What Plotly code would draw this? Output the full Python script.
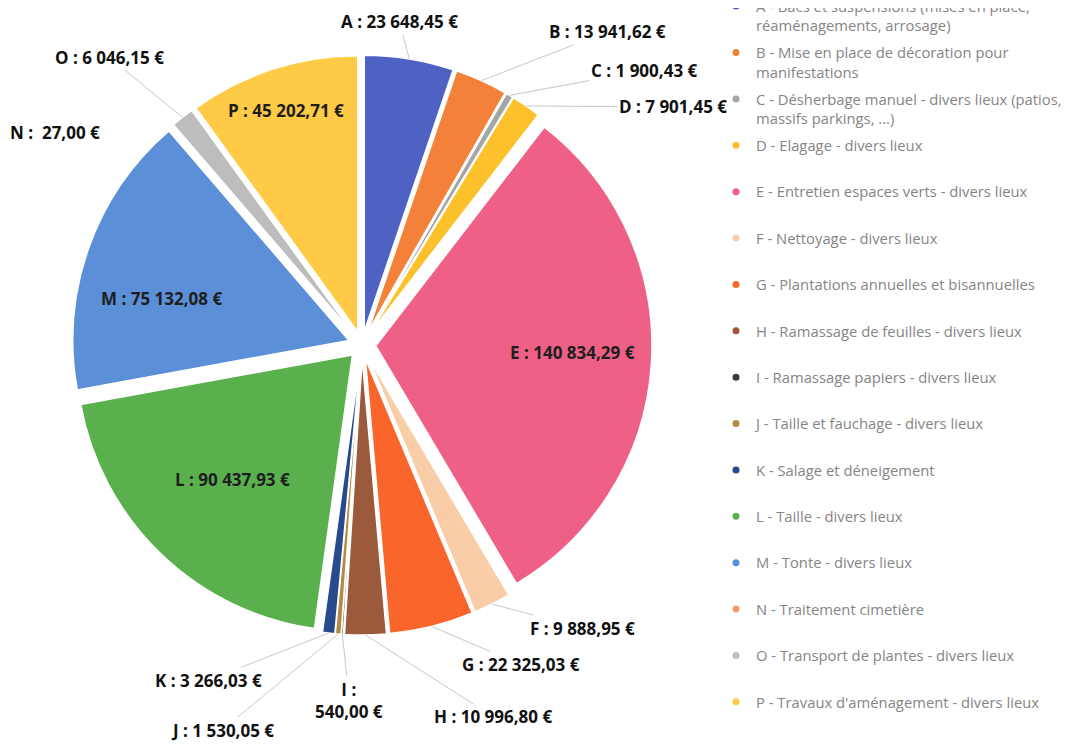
import math
import plotly.graph_objects as go

# Données
lettres = list("ABCDEFGHIJKLMNOP")
libelles = [
    "A - Bacs et suspensions (mises en place,<br>réaménagements, arrosage)",
    "B - Mise en place de décoration pour<br>manifestations",
    "C - Désherbage manuel - divers lieux (patios,<br>massifs parkings, ...)",
    "D - Elagage - divers lieux",
    "E - Entretien espaces verts - divers lieux",
    "F - Nettoyage - divers lieux",
    "G - Plantations annuelles et bisannuelles",
    "H - Ramassage de feuilles - divers lieux",
    "I - Ramassage papiers - divers lieux",
    "J - Taille et fauchage - divers lieux",
    "K - Salage et déneigement",
    "L - Taille - divers lieux",
    "M - Tonte - divers lieux",
    "N - Traitement cimetière",
    "O - Transport de plantes - divers lieux",
    "P - Travaux d'aménagement - divers lieux",
]
montants = [23648.45, 13941.62, 1900.43, 7901.45, 140834.29, 9888.95,
            22325.03, 10996.80, 540.00, 1530.05, 3266.03, 90437.93,
            75132.08, 27.00, 6046.15, 45202.71]
couleurs = ["#4E62C4", "#F4813A", "#A5A5A5", "#FDC22B", "#EE6086", "#F9CDA8",
            "#F9652A", "#9C5A3C", "#3A3A3A", "#B58A45", "#264A8C", "#5BB04E",
            "#5B90D8", "#F59A64", "#BDBDBD", "#FFCA45"]

# Mise en page (pixels de la page ; la page a une marge de 8 px)
MARGE = 8
W, H = 1083 - 2 * MARGE, 752 - 2 * MARGE
CX, CY, R = 362 - MARGE, 345 - MARGE, 290
PULL = 0.05

# étiquettes à l'intérieur : (fraction du rayon, décalage angulaire en degrés)
interieur = {"E": (0.714, -1.5), "L": (0.627, 0), "M": (0.694, -6.3), "P": (0.844, 0)}
# étiquettes à l'extérieur : décalage (dx, dy) depuis le bord de la part
exterieur = {
    "A": (-10, -37), "B": (126, -49), "C": (135, -25), "D": (147, 1),
    "F": (90, 24), "G": (89, 38), "H": (128, 82), "I": (7, 66),
    "J": (-116, 96), "K": (-120, 47), "N": (-118, 7), "O": (-73, -60),
}


def euros(v):
    s = f"{v:,.2f}".replace(",", " ").replace(".", ",")
    return s + " €"


fig = go.Figure()

fig.add_trace(go.Pie(
    labels=lettres, values=montants, sort=False, direction="clockwise",
    rotation=0, pull=[PULL] * len(montants), textinfo="none",
    marker=dict(colors=couleurs, line=dict(color="white", width=1.5)),
    domain=dict(x=[(CX - R) / W, (CX + R) / W],
                y=[(H - CY - R) / H, (H - CY + R) / H]),
    showlegend=False, hovertemplate="%{label} : %{value:,.2f} €<extra></extra>",
))

# légende : une trace fictive par poste, pour un espacement régulier
for lettre, lib, c in zip(lettres, libelles, couleurs):
    nom = lib if "<br>" in lib else lib + "<br>\u00a0"
    fig.add_trace(go.Scatter(
        x=[None], y=[None], mode="markers", name=nom, legendgroup=lettre,
        marker=dict(size=7, color=c), hoverinfo="skip",
    ))

# étiquettes
r = R / (1 + PULL)
total = sum(montants)
cumul = 0
annotations = []
for lettre, v in zip(lettres, montants):
    milieu = (cumul + v / 2) / total * 360
    cumul += v
    if lettre in interieur:
        frac, decal = interieur[lettre]
        theta = math.radians(milieu + decal)
        d = r * (PULL + frac)
        annotations.append(dict(
            x=(CX + d * math.sin(theta)) / W, y=(H - CY + d * math.cos(theta)) / H,
            xref="paper", yref="paper", xanchor="center", yanchor="middle",
            text=f"<b>{lettre} : {euros(v)}</b>", showarrow=False,
            font=dict(family="Open Sans", size=17, color="#1E1E1E"),
        ))
    else:
        theta = math.radians(milieu)
        d = r * (1 + PULL)
        dx, dy = exterieur[lettre]
        if lettre == "I":
            texte = f"<b>{lettre} :<br>{euros(v)}</b>"
        elif lettre == "N":
            texte = f"<b>{lettre} :  {euros(v)}</b>"
        else:
            texte = f"<b>{lettre} : {euros(v)}</b>"
        fleche = lettre != "N"
        annotations.append(dict(
            x=(CX + d * math.sin(theta)) / W, y=(H - CY + d * math.cos(theta)) / H,
            xref="paper", yref="paper", xanchor="center", yanchor="middle",
            text=texte, showarrow=fleche, arrowhead=0, arrowwidth=1,
            arrowcolor="#C8C8C8", ax=dx, ay=dy, standoff=0,
            xshift=0 if fleche else dx, yshift=0 if fleche else -dy,
            font=dict(family="Open Sans", size=17, color="#111111"),
        ))

fig.update_layout(
    width=W, height=H,
    margin=dict(l=0, r=0, t=0, b=0, autoexpand=False),
    paper_bgcolor="white", plot_bgcolor="white",
    separators=", ",
    xaxis=dict(visible=False), yaxis=dict(visible=False),
    annotations=annotations,
    legend=dict(
        x=708 / W, y=1 + 18 / H, xanchor="left", yanchor="top",
        font=dict(family="Open Sans", size=14.8, color="#858585"),
        tracegroupgap=4.9, valign="top", traceorder="grouped",
        bgcolor="rgba(0,0,0,0)", itemwidth=30, maxheight=900,
    ),
)

fig.write_html("out.html")
